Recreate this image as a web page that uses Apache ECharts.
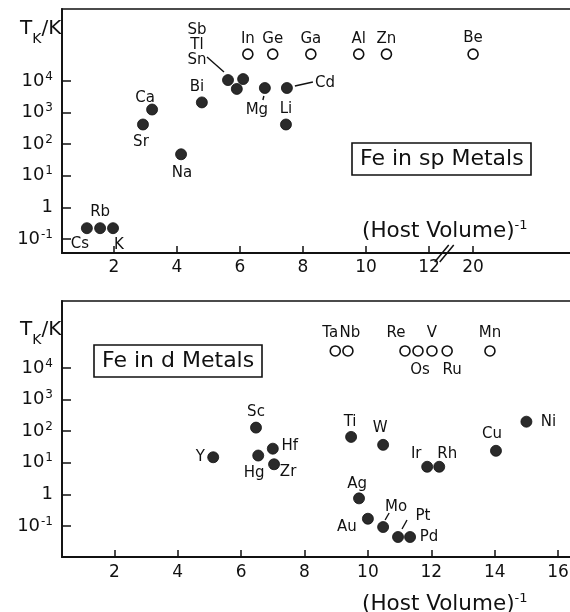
<!DOCTYPE html>
<html>
<head>
<meta charset="utf-8">
<script src="https://cdn.jsdelivr.net/npm/echarts@6/dist/echarts.min.js"></script>
<style>
  html, body { margin: 0; padding: 0; background: #fff; }
  #chart { width: 570px; height: 612px; }
</style>
</head>
<body>
<div id="chart"></div>
<script>
// Fe impurities in sp metals: host, inverse host volume, Kondo temperature (K)
const spHosts     = ['Cs', 'Rb', 'K', 'Sr', 'Ca', 'Na', 'Bi', 'Sb', 'Tl', 'Sn', 'Mg', 'Cd', 'Li'];
const spInvVolume = [1.14, 1.56, 1.97, 2.92, 3.21, 4.13, 4.79, 5.62, 5.90, 6.10, 6.79, 7.49, 7.46];
const spKondoT    = [0.22, 0.22, 0.22, 420, 1250, 48, 2100, 10700, 5600, 11500, 6000, 6000, 420];
// sp hosts in which Fe shows no local moment
const spNonMagHosts     = ['In', 'Ge', 'Ga', 'Al', 'Zn', 'Be'];
const spNonMagInvVolume = [6.25, 7.04, 8.25, 9.77, 10.65, 20];

// Fe impurities in d metals
const dHosts     = ['Y', 'Sc', 'Hg', 'Hf', 'Zr', 'Ti', 'W', 'Ir', 'Rh', 'Cu', 'Ni', 'Ag', 'Au', 'Mo', 'Pt', 'Pd'];
const dInvVolume = [5.12, 6.47, 6.54, 7.00, 7.04, 9.47, 10.48, 11.87, 12.25, 14.04, 15.0, 9.72, 10.0, 10.48, 10.95, 11.33];
const dKondoT    = [15, 130, 17, 28, 9, 66, 37, 7.5, 7.5, 24, 200, 0.75, 0.17, 0.093, 0.045, 0.045];
const dNonMagHosts     = ['Ta', 'Nb', 'Re', 'Os', 'V', 'Ru', 'Mn'];
const dNonMagInvVolume = [8.97, 9.37, 11.17, 11.58, 12.02, 12.5, 13.85];

// axis ticks
const spXTicks = [2, 4, 6, 8, 10, 12, 20];
const dXTicks  = [2, 4, 6, 8, 10, 12, 14, 16];
const yTickExp = [-1, 0, 1, 2, 3, 4];   // T_K = 10^exp

// ---------- drawing ----------
const FONT = "'DejaVu Sans', 'Liberation Sans', sans-serif";
const INK = '#111';

// the sp axis is broken between 12 and 20
const BREAK_FROM = 12, BREAK_TO = 20, BREAK_AT = 13.4;
const spX = v => (v > BREAK_FROM ? BREAK_AT + (v - BREAK_TO) : v);

// level of the "no moment" row above the log scale (log10 units)
const SP_ROW = 4.85, D_ROW = 4.54;

// label offsets (px) relative to each marker
const LABEL_OFF = {
  Cs: [-7, 16], Rb: [0, -16], K: [6, 17], Sr: [-2, 18], Ca: [-7, -11], Na: [1, 19],
  Bi: [-5, -15], Sb: [-31, -35], Mg: [-8, 22], Cd: [38, -5], Li: [0, -15],
  Y: [-13, 0], Sc: [0, -16], Hg: [-4, 18], Hf: [17, -3], Zr: [14, 8], Ti: [-1, -15],
  W: [-3, -17], Ir: [-11, -13], Rh: [8, -13], Cu: [-4, -17], Ni: [22, 0], Ag: [-2, -14],
  Au: [-21, 8], Mo: [13, -20], Pt: [25, -21], Pd: [19, 0],
  In: [0, -15], Ge: [0, -15], Ga: [0, -15], Al: [0, -15], Zn: [0, -15], Be: [0, -16],
  Ta: [-5, -18], Nb: [2, -18], Re: [-9, -18], Os: [2, 19], V: [0, -18], Ru: [5, 19], Mn: [0, -18]
};
const LABEL_TEXT = { Sb: 'Sb\nTl\nSn', Tl: '', Sn: '' };

// short leader lines from a marker to its label (px offsets from the marker)
const LEADERS = {
  sp: { Sb: [[-21, -23], [-4, -8]], Cd: [[8, -2], [26, -6]], Mg: [[-1, 8], [-2, 12]] },
  d:  { Mo: [[2, -7], [6, -14]], Pt: [[4, -8], [9, -17]] }
};

function pointItems(names, xs, ys, xMap) {
  return names.map((n, i) => ({
    name: n,
    value: [xMap(xs[i]), ys[i]],
    label: {
      offset: LABEL_OFF[n] || [0, -15],
      formatter: LABEL_TEXT[n] !== undefined ? LABEL_TEXT[n] : n
    }
  }));
}

const labelBase = {
  show: true, position: 'inside', color: INK, fontFamily: FONT, fontSize: 15, lineHeight: 15,
  opacity: 1, textBorderWidth: 0
};

function filledSeries(names, xs, ts, xMap, idx) {
  return {
    type: 'scatter', xAxisIndex: idx, yAxisIndex: idx, symbol: 'circle', symbolSize: 11,
    itemStyle: { color: '#2a2a2a', borderColor: '#111', borderWidth: 0.8, opacity: 1 },
    label: labelBase, silent: true, z: 3,
    data: pointItems(names, xs, ts.map(t => Math.log10(t)), xMap)
  };
}

function openSeries(names, xs, row, xMap, idx) {
  return {
    type: 'scatter', xAxisIndex: idx, yAxisIndex: idx, symbol: 'circle', symbolSize: 10,
    itemStyle: { color: '#fff', borderColor: INK, borderWidth: 1.6, opacity: 1 },
    label: labelBase, silent: true, z: 3,
    data: pointItems(names, xs, xs.map(() => row), xMap)
  };
}

function leaderSeries(panel, names, xs, ys, xMap, idx) {
  const data = [];
  names.forEach((n, i) => {
    const l = LEADERS[panel][n];
    if (l) data.push([xMap(xs[i]), ys[i], l[0][0], l[0][1], l[1][0], l[1][1]]);
  });
  return {
    type: 'custom', xAxisIndex: idx, yAxisIndex: idx, silent: true, z: 2,
    encode: { x: 0, y: 1 },
    renderItem(params, api) {
      const p = api.coord([api.value(0), api.value(1)]);
      return {
        type: 'line',
        shape: { x1: p[0] + api.value(2), y1: p[1] + api.value(3), x2: p[0] + api.value(4), y2: p[1] + api.value(5) },
        style: { stroke: INK, lineWidth: 1.4 }
      };
    },
    data
  };
}

const supLabel = e => {
  if (e === 0) return '{b|1}';
  return '{b|10}{s|' + (e < 0 ? '-' + Math.abs(e) : e) + '}';
};

function yAxis(idx, min, max) {
  return {
    type: 'value', gridIndex: idx, min, max,
    axisLine: { show: true, lineStyle: { color: INK, width: 1.8 } },
    axisTick: { show: true, inside: true, length: 9, lineStyle: { color: INK, width: 1.5 }, customValues: yTickExp },
    axisLabel: {
      margin: 9, color: INK, fontFamily: FONT, customValues: yTickExp,
      formatter: v => supLabel(Math.round(v)),
      rich: {
        b: { fontSize: 18, fontFamily: FONT, color: INK, lineHeight: 21 },
        s: { fontSize: 12, fontFamily: FONT, color: INK, verticalAlign: 'top', lineHeight: 12, padding: [0, 0, 0, 1] }
      }
    },
    splitLine: { show: false }
  };
}

function xAxis(idx, min, max, ticks, labelFn, margin) {
  return {
    type: 'value', gridIndex: idx, min, max,
    axisLine: { show: true, onZero: false, lineStyle: { color: INK, width: 1.8 } },
    axisTick: { show: true, inside: true, length: 7, lineStyle: { color: INK, width: 1.5 }, customValues: ticks },
    axisLabel: {
      margin, color: INK, fontFamily: FONT, fontSize: 17, customValues: ticks,
      formatter: labelFn
    },
    splitLine: { show: false }
  };
}

const SP_YMIN = -1.443, SP_YMAX = 6.278;
const D_YMIN = -1.98, D_YMAX = 6.12;
// plot frames run off the right edge of the page (no right border)
const GRID_W = 520;
const SP_XMIN = 0.35, SP_XMAX = SP_XMIN + GRID_W / 31.5;
const D_XMIN = 0.35, D_XMAX = D_XMIN + GRID_W / 31.7;

const spYLog = spKondoT.map(t => Math.log10(t));
const dYLog = dKondoT.map(t => Math.log10(t));
const ident = v => v;

const tkTitle = (top) => ({
  text: '{t|T}{k|K}{t|/K}', left: 15, top,
  textStyle: {
    rich: {
      t: { fontSize: 20, fontFamily: FONT, color: INK, fontWeight: 'normal', lineHeight: 24 },
      k: { fontSize: 14, fontFamily: FONT, color: INK, fontWeight: 'normal', lineHeight: 24, verticalAlign: 'bottom', padding: [0, 0, -5, 0] }
    }
  }
});
const hostVolTitle = (left, top) => ({
  text: '{h|(Host Volume)}{s|-1}', left, top,
  textStyle: {
    rich: {
      h: { fontSize: 21.5, fontFamily: FONT, color: INK, fontWeight: 'normal', lineHeight: 25 },
      s: { fontSize: 13, fontFamily: FONT, color: INK, fontWeight: 'normal', verticalAlign: 'top', lineHeight: 13 }
    }
  }
});
const boxTitle = (text, left, top) => ({
  text, left, top, padding: [4, 8, 3, 8],
  borderColor: INK, borderWidth: 1.6,
  textStyle: { fontSize: 22, fontFamily: FONT, color: INK, fontWeight: 'normal', lineHeight: 25 }
});

const option = {
  animation: false,
  backgroundColor: '#fff',
  title: [
    tkTitle(12),
    tkTitle(313),
    boxTitle('Fe in sp Metals', 352, 143),
    boxTitle('Fe in d Metals', 94, 345),
    hostVolTitle(357, 214),
    hostVolTitle(357, 587)
  ],
  grid: [
    { left: 62, top: 9, width: GRID_W, height: 244, show: true, borderColor: INK, borderWidth: 1.6,
      backgroundColor: 'transparent', containLabel: false, outerBoundsMode: 'none' },
    { left: 62, top: 301, width: GRID_W, height: 256, show: true, borderColor: INK, borderWidth: 1.6,
      backgroundColor: 'transparent', containLabel: false, outerBoundsMode: 'none' }
  ],
  xAxis: [
    xAxis(0, SP_XMIN, SP_XMAX, spXTicks.map(spX), v => (v > BREAK_FROM + 0.01 ? String(BREAK_TO) : String(Math.round(v))), 6),
    xAxis(1, D_XMIN, D_XMAX, dXTicks, v => String(Math.round(v)), 7)
  ],
  yAxis: [
    yAxis(0, SP_YMIN, SP_YMAX),
    yAxis(1, D_YMIN, D_YMAX)
  ],
  series: [
    filledSeries(spHosts, spInvVolume, spKondoT, spX, 0),
    openSeries(spNonMagHosts, spNonMagInvVolume, SP_ROW, spX, 0),
    leaderSeries('sp', spHosts, spInvVolume, spYLog, spX, 0),
    filledSeries(dHosts, dInvVolume, dKondoT, ident, 1),
    openSeries(dNonMagHosts, dNonMagInvVolume, D_ROW, ident, 1),
    leaderSeries('d', dHosts, dInvVolume, dYLog, ident, 1),
    // "//" break mark on the sp axis
    {
      type: 'custom', xAxisIndex: 0, yAxisIndex: 0, silent: true, clip: false, z: 4,
      encode: { x: 0, y: 1 },
      renderItem(params, api) {
        const p = api.coord([api.value(0), api.value(1)]);
        return {
          type: 'group',
          children: [
            { type: 'line', shape: { x1: p[0] - 10, y1: p[1] + 9, x2: p[0] + 4, y2: p[1] - 8 }, style: { stroke: INK, lineWidth: 1.5 } },
            { type: 'line', shape: { x1: p[0] - 5, y1: p[1] + 9, x2: p[0] + 9, y2: p[1] - 8 }, style: { stroke: INK, lineWidth: 1.5 } }
          ]
        };
      },
      data: [[(BREAK_FROM + BREAK_AT) / 2 - 0.2, SP_YMIN]]
    }
  ]
};

const chart = echarts.init(document.getElementById('chart'), null, { renderer: 'canvas' });
chart.setOption(option);
</script>
</body>
</html>
